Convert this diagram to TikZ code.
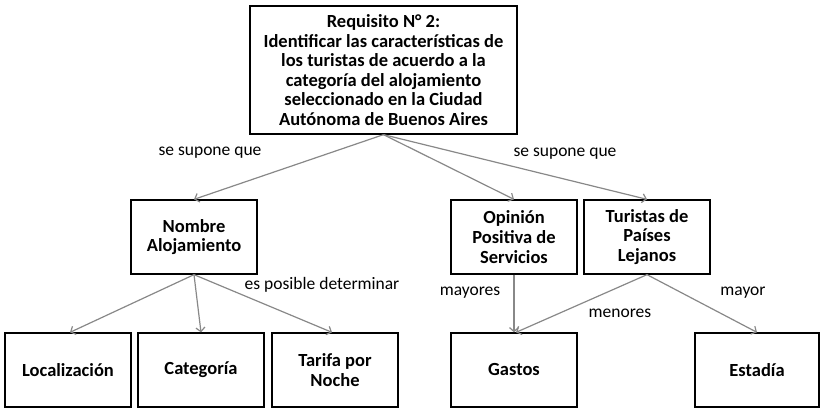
\documentclass[tikz,border=0pt]{standalone}
\usepackage{fontspec}
\setmainfont{Carlito}
\usetikzlibrary{arrows.meta}
\definecolor{linkgray}{RGB}{136,136,136}

\begin{document}
\begin{tikzpicture}[x=1pt,y=-1pt]
\tikzset{
  reqbox/.style={rectangle,draw,line width=1.3pt,minimum width=126pt,minimum height=74pt,inner sep=2pt,align=center,font=\fontsize{18.5}{19.6}\selectfont\bfseries},
  directed/.style={-{Straight Barb[length=4pt,width=9pt]},line width=1.2pt,draw=linkgray},
  linklabel/.style={inner sep=0pt,font=\fontsize{17.5}{19}\selectfont}
}
\useasboundingbox (0,0) rectangle (820,409);
\node[reqbox,minimum width=267pt,minimum height=128pt] (n_req) at (383.5,70) {Requisito N\textdegree{} 2:\\Identificar las características de\\los turistas de acuerdo a la\\categoría del alojamiento\\seleccionado en la Ciudad\\Autónoma de Buenos Aires};
\node[reqbox] (n_nombre) at (194,237) {Nombre\\Alojamiento};
\node[reqbox] (n_opinion) at (514,237) {Opinión\\Positiva de\\Servicios};
\node[reqbox] (n_turistas) at (647,237) {Turistas de\\Países\\Lejanos};
\node[reqbox] (n_loc) at (68,370) {Localización};
\node[reqbox] (n_cat) at (201,370) {Categoría};
\node[reqbox] (n_tarifa) at (335,370) {Tarifa por\\Noche};
\node[reqbox] (n_gastos) at (514,370) {Gastos};
\node[reqbox,minimum width=124pt] (n_estadia) at (757,370) {Estadía};
\draw[directed] (n_req.south) -- (n_nombre.north);
\draw[directed] (n_req.south) -- (n_opinion.north);
\draw[directed] (n_req.south) -- (n_turistas.north);
\draw[directed] (n_nombre.south) -- ([xshift=2pt]n_loc.north);
\draw[directed] (n_nombre.south) -- (n_cat.north);
\draw[directed] (n_nombre.south) -- ([xshift=-3pt]n_tarifa.north);
\draw[directed] (n_opinion.south) -- (n_gastos.north);
\draw[directed] (n_turistas.south) -- ([xshift=2pt]n_gastos.north);
\draw[directed] (n_turistas.south) -- (n_estadia.north);
\node[linklabel] (l_supone1) at (210,153) {se supone que};
\node[linklabel] (l_supone2) at (565,154) {se supone que};
\node[linklabel] (l_posible) at (322,285) {es posible determinar};
\node[linklabel] (l_mayores) at (470,293) {mayores};
\node[linklabel] (l_menores) at (620,313) {menores};
\node[linklabel] (l_mayor) at (743,293) {mayor};
\end{tikzpicture}
\end{document}
